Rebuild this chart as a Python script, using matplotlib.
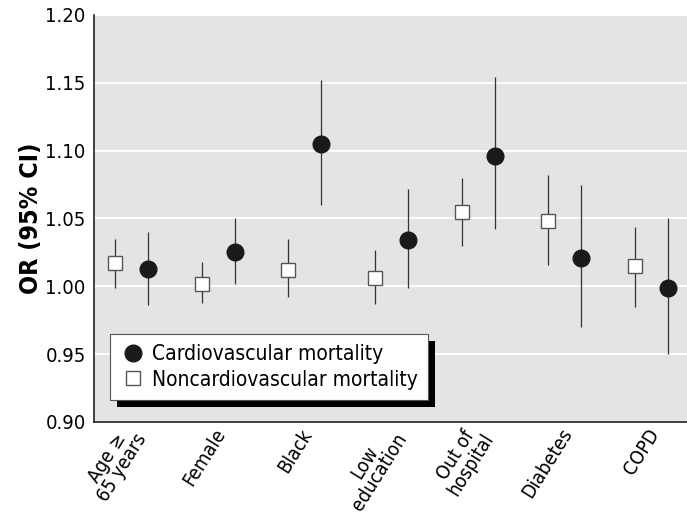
import numpy as np
import matplotlib
matplotlib.use("Agg")
import matplotlib.pyplot as plt
import matplotlib.patheffects as pe
from matplotlib.lines import Line2D

plt.rcParams['font.family'] = ['DejaVu Sans']
plt.rcParams['font.stretch'] = 'condensed'

categories = ["Age \u2265\n65 years", "Female", "Black", "Low\neducation",
              "Out of\nhospital", "Diabetes", "COPD"]

# cardiovascular mortality (circles)
cardio = [1.013, 1.025, 1.105, 1.034, 1.096, 1.021, 0.999]
cardio_lo = [0.986, 1.002, 1.060, 0.999, 1.042, 0.970, 0.950]
cardio_hi = [1.040, 1.050, 1.152, 1.072, 1.154, 1.075, 1.050]

# noncardiovascular mortality (squares)
noncardio = [1.017, 1.002, 1.012, 1.006, 1.055, 1.048, 1.015]
noncardio_lo = [0.999, 0.988, 0.992, 0.987, 1.030, 1.016, 0.985]
noncardio_hi = [1.035, 1.018, 1.035, 1.027, 1.080, 1.082, 1.044]

x = np.arange(len(categories))
xs = x - 0.19
xc = x + 0.19

fig = plt.figure(figsize=(6.87, 5.15), dpi=100)
ax = fig.add_axes([0.1368, 0.1806, 0.8632, 0.7903])
ax.set_facecolor('#e4e4e4')

cardio = np.array(cardio)
noncardio = np.array(noncardio)

ax.errorbar(xs, noncardio,
            yerr=[noncardio - np.array(noncardio_lo), np.array(noncardio_hi) - noncardio],
            fmt='s', ms=10.5, mfc='white', mec='#555555', mew=1.0,
            ecolor='#333333', elinewidth=0.9, capsize=0, zorder=3)
ax.errorbar(xc, cardio,
            yerr=[cardio - np.array(cardio_lo), np.array(cardio_hi) - cardio],
            fmt='o', ms=12, mfc='#1a1a1a', mec='#1a1a1a',
            ecolor='#333333', elinewidth=0.9, capsize=0, zorder=3)

ax.set_ylim(0.90, 1.20)
ax.set_yticks(np.arange(0.90, 1.2001, 0.05))
ax.set_yticklabels(['%.2f' % v for v in np.arange(0.90, 1.2001, 0.05)])
ax.set_xlim(-0.433, 6.41)
ax.set_xticks(x + 0.04)
ax.set_xticklabels(categories, rotation=58, ha='right', va='center',
                   rotation_mode='anchor', linespacing=0.9, multialignment='center')
ax.tick_params(axis='both', length=0, labelsize=14.5, pad=6)
ax.tick_params(axis='x', pad=6, labelsize=14)
ax.grid(axis='y', color='white', lw=1.3)
ax.set_axisbelow(True)
for s in ['top', 'right']:
    ax.spines[s].set_visible(False)
for s in ['left', 'bottom']:
    ax.spines[s].set_color('#222222')
    ax.spines[s].set_linewidth(1.2)

ax.set_ylabel('OR (95% CI)', fontsize=18, fontweight='bold', labelpad=2)

handles = [Line2D([], [], ls='none', marker='o', ms=12, mfc='#1a1a1a', mec='#1a1a1a'),
           Line2D([], [], ls='none', marker='s', ms=10.5, mfc='white', mec='#555555')]
leg = ax.legend(handles, ['Cardiovascular mortality', 'Noncardiovascular mortality'],
                loc='lower left', bbox_to_anchor=(0.027, 0.054),
                borderaxespad=0, fontsize=15, frameon=True, fancybox=False,
                handletextpad=0.3, handlelength=1.2, borderpad=0.5,
                labelspacing=0.25)
frame = leg.get_frame()
frame.set_edgecolor('#555555')
frame.set_linewidth(0.8)
frame.set_facecolor('white')
frame.set_alpha(1)
frame.set_path_effects([pe.SimplePatchShadow(offset=(5, -5), shadow_rgbFace='black', alpha=1),
                        pe.Normal()])

fig.savefig('out.png', dpi=100)
